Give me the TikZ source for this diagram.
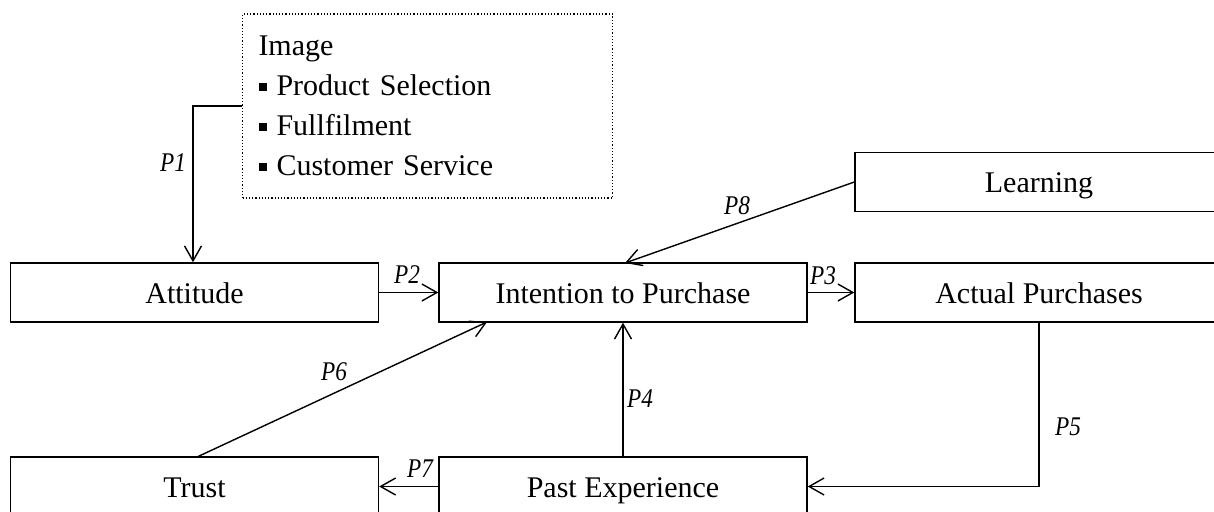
\documentclass[tikz,border=0pt]{standalone}
\usepackage{fontspec}
\setmainfont{Liberation Serif}
\usetikzlibrary{arrows.meta}
\begin{document}
\begin{tikzpicture}[x=1pt,y=-1pt,
  box/.style={draw, line width=1.4pt, minimum width=368pt, minimum height=59pt,
    inner sep=0pt, text height=27pt, text depth=6pt, font=\fontsize{30}{36}\selectfont},
  link/.style={draw, line width=1.4pt, -{Straight Barb[length=15pt,width=17pt,line width=1.4pt]}},
  plabel/.style={font=\fontsize{27}{30}\selectfont\itshape, inner sep=0pt, xscale=0.86}]
\clip (0,0) rectangle (1214,511);
\fill[white] (0,0) rectangle (1214,511);

% boxes
\node[box] (att)   at (194.5,292.5) {Attitude};
\node[box] (int)   at (623,292.5)   {Intention to Purchase};
\node[box] (act)   at (1039,292.5)  {Actual Purchases};
\node[box] (learn) at (1039,182)    {Learning};
\node[box] (trust) at (194.5,486.5) {Trust};
\node[box] (past)  at (623,486.5)   {Past Experience};

% dimension box with bullets
\node[draw, dotted, line width=1.2pt, minimum width=370pt, minimum height=184pt,
  inner xsep=16pt, text width=338pt, align=left,
  font=\fontsize{30}{40}\selectfont] (img) at (427.5,106) {%
  Image\\
  \rule[5pt]{8pt}{8pt} Product Selection\\
  \rule[5pt]{8pt}{8pt} Fullfilment\\
  \rule[5pt]{8pt}{8pt} Customer Service};

% connectors
\coordinate (c1) at (193,106);
\draw[link] (img.west |- c1) -- (c1) -- (c1 |- att.north);
\draw[link] (att.east) -- (int.west);
\draw[link] (int.east) -- (act.west);
\draw[link] (past.north) -- (int.south);
\coordinate (c5) at (1039,486.5);
\draw[link] (act.south -| c5) -- (c5) -- (past.east);
\coordinate (t6) at (197,457);
\coordinate (h6) at (487,322);
\draw[link] (t6) -- (h6);
\draw[link] (past.west) -- (trust.east);
\coordinate (h8) at (625,263);
\draw[link] (learn.west) -- (h8);

% labels
\node[plabel] (l1) at (173,163) {P1};
\node[plabel] (l2) at (407,275) {P2};
\node[plabel] (l3) at (823,276) {P3};
\node[plabel] (l4) at (640,399) {P4};
\node[plabel] (l5) at (1068,427) {P5};
\node[plabel] (l6) at (334,372) {P6};
\node[plabel] (l7) at (420,469) {P7};
\node[plabel] (l8) at (737,206) {P8};
\end{tikzpicture}
\end{document}
